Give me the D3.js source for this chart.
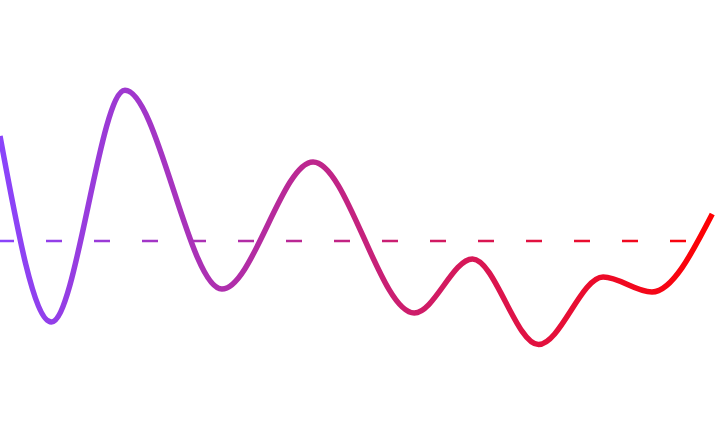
<!DOCTYPE html>
<html>
<head>
<meta charset="utf-8">
<script src="https://cdn.jsdelivr.net/npm/d3@7"></script>
<style>
  html, body { margin: 0; padding: 0; background: #fff; }
  svg { display: block; }
</style>
</head>
<body>
<div id="chart"></div>
<script>
// wave samples (x in % of width, value relative to the baseline)
var xs = [0, 7.15, 17.4, 30.9, 43.6, 57.7, 65.8, 75.0, 84.0, 90.8, 99.2];
var values = [0.70, -0.54, 1.005, -0.32, 0.527, -0.48, -0.12, -0.69, -0.24, -0.34, 0.18];
var baseline = [0];
var gradientColors = ["#8a44fb", "#ff0000"];

var width = 718, height = 448;

var svg = d3.select("#chart").append("svg")
    .attr("width", width)
    .attr("height", height);

var x = d3.scaleLinear().domain([0, 100]).range([0, width]);
var y = d3.scaleLinear().domain([-1, 1]).range([391, 91]);

// gradient along the x direction, shared by both lines
var grad = svg.append("defs").append("linearGradient")
    .attr("id", "wave-grad")
    .attr("gradientUnits", "userSpaceOnUse")
    .attr("x1", 0).attr("y1", 0)
    .attr("x2", width).attr("y2", 0);
grad.selectAll("stop")
    .data(gradientColors)
    .enter().append("stop")
    .attr("offset", (d, i) => i / (gradientColors.length - 1))
    .attr("stop-color", d => d);

// dashed baseline
svg.selectAll(".baseline")
    .data(baseline)
    .enter().append("line")
    .attr("class", "baseline")
    .attr("x1", x(0)).attr("x2", x(100))
    .attr("y1", d => y(d)).attr("y2", d => y(d))
    .attr("stroke", "url(#wave-grad)")
    .attr("stroke-width", 2.7)
    .attr("stroke-dasharray", "16,32")
    .attr("stroke-dashoffset", 2);

var pts = xs.map((d, i) => [d, values[i]]);

var line = d3.line()
    .x(d => x(d[0]))
    .y(d => y(d[1]))
    .curve(d3.curveMonotoneX);

svg.append("path")
    .datum(pts)
    .attr("d", line)
    .attr("fill", "none")
    .attr("stroke", "url(#wave-grad)")
    .attr("stroke-width", 5.5);
</script>
</body>
</html>
